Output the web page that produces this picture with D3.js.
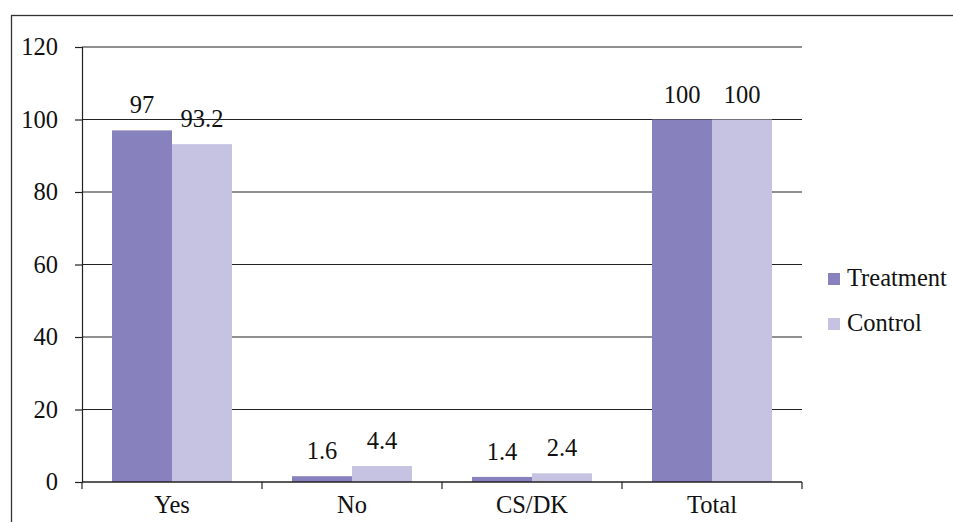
<!DOCTYPE html>
<html>
<head>
<meta charset="utf-8">
<script src="https://cdn.jsdelivr.net/npm/d3@7"></script>
<style>
  html, body { margin: 0; padding: 0; background: #fff; }
  svg { display: block; }
</style>
</head>
<body>
<svg id="chart" width="953" height="522"></svg>
<script>
// Response categories and percentages per group
const categories = ["Yes", "No", "CS/DK", "Total"];
const seriesNames = ["Treatment", "Control"];
const treatmentValues = [97, 1.6, 1.4, 100];
const controlValues = [93.2, 4.4, 2.4, 100];
const yTicks = [0, 20, 40, 60, 80, 100, 120];

const colors = { Treatment: "#8781bd", Control: "#c6c3e2" };
const FONT = "'Liberation Serif', 'Times New Roman', 'DejaVu Serif', serif";
const FS = 24.5;

const svg = d3.select("#chart").style("font-family", FONT);
const W = 953, H = 522;
const plot = { left: 82, right: 802, top: 47, bottom: 482 };

// Outer frame around the chart
svg.append("rect")
  .attr("x", 11.5).attr("y", 15.5)
  .attr("width", W + 20).attr("height", H + 20)
  .attr("fill", "none").attr("stroke", "#333").attr("stroke-width", 1.3);

const x = d3.scaleBand().domain(categories).range([plot.left, plot.right]).padding(0);
const xInner = d3.scaleBand().domain(seriesNames)
  .range([0, x.bandwidth()]).paddingOuter(0.5).paddingInner(0);
const y = d3.scaleLinear().domain([0, 120]).range([plot.bottom, plot.top]);

// Horizontal gridlines
svg.append("g").selectAll("line").data(yTicks.filter(t => t > 0)).join("line")
  .attr("x1", plot.left).attr("x2", plot.right)
  .attr("y1", d => y(d)).attr("y2", d => y(d))
  .attr("stroke", "#222").attr("stroke-width", 1.2);

// Bars
const rows = categories.map((c, i) => ({
  cat: c,
  vals: [
    { name: "Treatment", v: treatmentValues[i] },
    { name: "Control", v: controlValues[i] }
  ]
}));

const groups = svg.append("g").selectAll("g").data(rows).join("g")
  .attr("transform", d => `translate(${x(d.cat)},0)`);

groups.selectAll("rect").data(d => d.vals).join("rect")
  .attr("x", d => xInner(d.name))
  .attr("width", xInner.bandwidth())
  .attr("y", d => y(d.v))
  .attr("height", d => y(0) - y(d.v))
  .attr("fill", d => colors[d.name]);

groups.selectAll("text.val").data(d => d.vals).join("text")
  .attr("class", "val")
  .attr("x", d => xInner(d.name) + xInner.bandwidth() / 2)
  .attr("y", d => y(d.v) - 17)
  .attr("text-anchor", "middle")
  .style("font-family", FONT)
  .attr("font-size", FS)
  .attr("fill", "#111")
  .text(d => d.v);

// Y axis
const yAxis = d3.axisLeft(y).tickValues(yTicks).tickSize(7).tickPadding(17);
const gy = svg.append("g").attr("transform", `translate(${plot.left},0)`).call(yAxis)
  .attr("font-family", null);
gy.select(".domain").attr("stroke", "#222").attr("stroke-width", 1.2);
gy.selectAll(".tick line").attr("stroke", "#222").attr("stroke-width", 1.2);
gy.selectAll(".tick text")
  .style("font-family", FONT)
  .attr("font-size", FS)
  .attr("fill", "#111");

// X axis with ticks at category boundaries
const gx = svg.append("g").attr("transform", `translate(0,${plot.bottom})`);
gx.append("line").attr("x1", plot.left).attr("x2", plot.right)
  .attr("y1", 0).attr("y2", 0).attr("stroke", "#222").attr("stroke-width", 1.4);
const bounds = categories.map(c => x(c)).concat([x(categories[categories.length - 1]) + x.bandwidth()]);
gx.selectAll("line.tk").data(bounds).join("line")
  .attr("class", "tk")
  .attr("x1", d => d).attr("x2", d => d)
  .attr("y1", 0).attr("y2", 7)
  .attr("stroke", "#222").attr("stroke-width", 1.2);
gx.selectAll("text").data(categories).join("text")
  .attr("x", d => x(d) + x.bandwidth() / 2)
  .attr("y", 31)
  .attr("text-anchor", "middle")
  .style("font-family", FONT)
  .attr("font-size", FS)
  .attr("fill", "#111")
  .text(d => d);

// Legend
const legend = svg.append("g").attr("transform", "translate(828,273)");
const li = legend.selectAll("g").data(seriesNames).join("g")
  .attr("transform", (d, i) => `translate(0,${i * 45})`);
li.append("rect").attr("width", 12).attr("height", 12).attr("fill", d => colors[d]);
li.append("text").attr("x", 19).attr("y", 13)
  .style("font-family", FONT)
  .attr("font-size", FS).attr("fill", "#111").text(d => d);
</script>
</body>
</html>
